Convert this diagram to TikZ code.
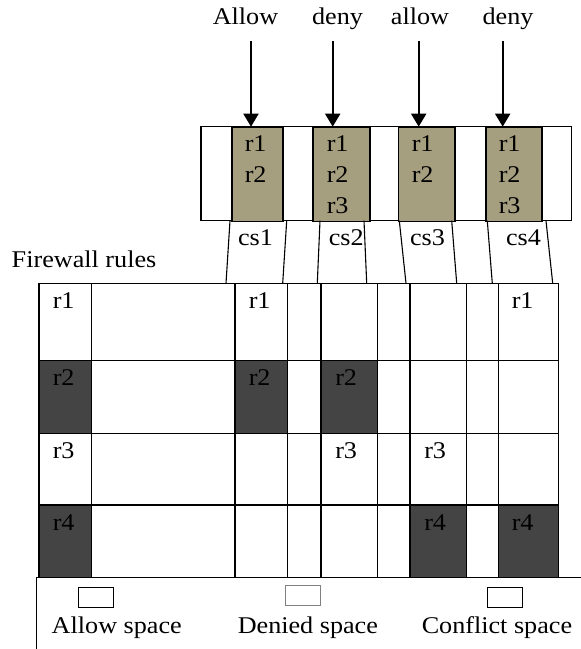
\documentclass[tikz,border=0pt]{standalone}
\usepackage{fontspec}
\setmainfont{Liberation Serif}[FakeStretch=1.09]
\usetikzlibrary{arrows.meta}
\definecolor{tancol}{HTML}{A59F80}
\definecolor{darkcell}{HTML}{444444}
\definecolor{graybox}{HTML}{808080}
\begin{document}
\begin{tikzpicture}[x=1pt,y=-1pt,line width=1.5pt,
  every node/.style={font=\fontsize{24}{31}\selectfont,inner sep=0pt},
  lbl/.style={anchor=base west},
  ctr/.style={anchor=base},
  tanbox/.style={draw,fill=tancol,anchor=north west,minimum height=94pt},
  arr/.style={line width=2pt,-{Triangle[width=15pt,length=13pt]}},
  slant/.style={line width=1.1pt},
  legbox/.style={draw,line width=1.1pt,minimum width=35pt,minimum height=20pt,anchor=north west}]
\useasboundingbox (0,0) rectangle (581,649);
\clip (0,0) rectangle (581,649);
\fill[white] (0,0) rectangle (581,649);

% ---- top box ----
\draw (201,126.7) rectangle (571.7,220.7);
\node[tanbox,minimum width=51.3pt] (c1) at (231,126.7) {};
\node[tanbox,minimum width=57pt] (c2) at (312.3,126.7) {};
\node[tanbox,minimum width=56.6pt] (c3) at (397.7,126.7) {};
\node[tanbox,minimum width=56pt] (c4) at (485,126.7) {};

\node[lbl] (c1r1) at (244,151.7) {r1};
\node[lbl] (c1r2) at (244,182.7) {r2};
\node[lbl] (c2r1) at (326,151.7) {r1};
\node[lbl] (c2r2) at (326,182.7) {r2};
\node[lbl] (c2r3) at (326,213.3) {r3};
\node[lbl] (c3r1) at (411,151.7) {r1};
\node[lbl] (c3r2) at (411,182.7) {r2};
\node[lbl] (c4r1) at (498,151.7) {r1};
\node[lbl] (c4r2) at (498,182.7) {r2};
\node[lbl] (c4r3) at (498,213.3) {r3};

% ---- arrows and actions ----
\node[ctr] (act1) at (245.5,24) {Allow};
\node[ctr] (act2) at (337.5,24) {deny};
\node[ctr] (act3) at (420,24) {allow};
\node[ctr] (act4) at (508,24) {deny};
\coordinate (s1) at (251,41);   \coordinate (t1) at (251,126.7);
\coordinate (s2) at (332.7,41); \coordinate (t2) at (332.7,126.7);
\coordinate (s3) at (418.7,41); \coordinate (t3) at (418.7,126.7);
\coordinate (s4) at (502.7,41); \coordinate (t4) at (502.7,126.7);
\foreach \i in {1,2,3,4} \draw[arr] (s\i) -- (t\i);

% ---- slanted connectors ----
\coordinate (a1) at (230,220.7);   \coordinate (b1) at (226,283.3);
\coordinate (a2) at (286.7,220.7); \coordinate (b2) at (282.7,283.3);
\coordinate (a3) at (320,220.7);   \coordinate (b3) at (317.3,283.3);
\coordinate (a4) at (364,220.7);   \coordinate (b4) at (366.7,283.3);
\coordinate (a5) at (399.3,220.7); \coordinate (b5) at (406,283.3);
\coordinate (a6) at (451.7,220.7); \coordinate (b6) at (456.7,283.3);
\coordinate (a7) at (487.3,220.7); \coordinate (b7) at (492.3,283.3);
\coordinate (a8) at (546,220.7);   \coordinate (b8) at (552.7,283.3);
\foreach \i in {1,...,8} \draw[slant] (a\i) -- (b\i);

\node[ctr] (cs1) at (255.5,245) {cs1};
\node[ctr] (cs2) at (346.3,245) {cs2};
\node[ctr] (cs3) at (427.5,245) {cs3};
\node[ctr] (cs4) at (523.5,245) {cs4};

% ---- firewall rules grid ----
\node[lbl] (fw) at (11,267) {Firewall rules};
% dark cells
\fill[darkcell] (39,360.7) rectangle (91.7,433.7);
\fill[darkcell] (235,360.7) rectangle (287.7,433.7);
\fill[darkcell] (321,360.7) rectangle (377.7,433.7);
\fill[darkcell] (39,505) rectangle (91.7,577.7);
\fill[darkcell] (410,505) rectangle (466.7,577.7);
\fill[darkcell] (498.3,505) rectangle (558.7,577.7);
% grid lines
\foreach \y in {283.3,360.7,433.7,505} \draw (39,\y) -- (558.7,\y);
\foreach \x in {39,91.7,235,287.7,321,377.7,410,466.7,498.3,558.7}
  \draw (\x,283.3) -- (\x,577.7);
% cell labels
\node[lbl] (g11) at (52,308.3) {r1};
\node[lbl] (g13) at (248,308.3) {r1};
\node[lbl] (g19) at (511,308.3) {r1};
\node[lbl] (g21) at (52,385.5) {r2};
\node[lbl] (g23) at (248,385.5) {r2};
\node[lbl] (g25) at (334.5,385.5) {r2};
\node[lbl] (g31) at (52,458.5) {r3};
\node[lbl] (g35) at (334.5,458.5) {r3};
\node[lbl] (g37) at (423.5,458.5) {r3};
\node[lbl] (g41) at (52,530) {r4};
\node[lbl] (g47) at (423.5,530) {r4};
\node[lbl] (g49) at (511,530) {r4};

% ---- legend ----
\draw (36.7,660) -- (36.7,577.7) -- (600,577.7);
\node[legbox] (l1) at (78.3,586.7) {};
\node[legbox,draw=graybox] (l2) at (285,585) {};
\node[legbox] (l3) at (486.7,586.7) {};
\node[lbl] (lt1) at (51,633) {Allow space};
\node[lbl] (lt2) at (237,633) {Denied space};
\node[lbl] (lt3) at (421,633) {Conflict space};
\end{tikzpicture}
\end{document}
